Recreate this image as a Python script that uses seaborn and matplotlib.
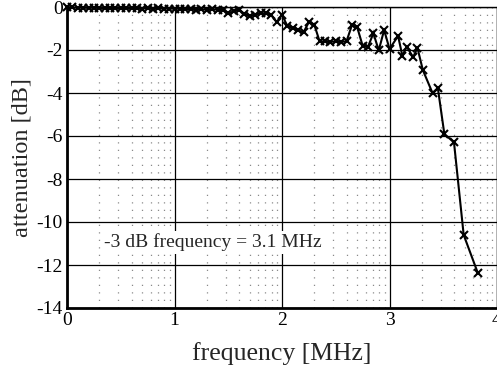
import numpy as np
import pandas as pd
import matplotlib
matplotlib.use("Agg")
import matplotlib.pyplot as plt
import seaborn as sns

# Measured frequency response of the transducer chain
freq_mhz = [
    0.00, 0.05, 0.10, 0.15, 0.20, 0.25, 0.30, 0.35, 0.40, 0.45,
    0.50, 0.55, 0.60, 0.65, 0.70, 0.75, 0.80, 0.85, 0.90, 0.95,
    1.00, 1.05, 1.10, 1.15, 1.20, 1.25, 1.30, 1.35, 1.40, 1.45,
    1.50, 1.55, 1.60, 1.65, 1.70, 1.75, 1.80, 1.85, 1.90, 1.95,
    2.00, 2.05, 2.10, 2.15, 2.20, 2.25, 2.30, 2.35, 2.40, 2.45,
    2.50, 2.55, 2.60, 2.65, 2.70, 2.75, 2.80, 2.85, 2.90, 2.95,
    3.00, 3.08, 3.12, 3.16, 3.22, 3.26, 3.31, 3.40, 3.45, 3.51,
    3.60, 3.69, 3.82,
]
attenuation_db = [
    0.00, -0.02, -0.03, -0.03, -0.04, -0.03, -0.05, -0.04, -0.05, -0.05,
    -0.06, -0.05, -0.06, -0.06, -0.07, -0.06, -0.07, -0.06, -0.08, -0.07,
    -0.08, -0.08, -0.10, -0.09, -0.12, -0.10, -0.13, -0.11, -0.12, -0.15,
    -0.30, -0.20, -0.12, -0.32, -0.42, -0.36, -0.28, -0.30, -0.38, -0.70,
    -0.37, -0.88, -0.98, -1.08, -1.18, -0.70, -0.82, -1.60, -1.60, -1.62,
    -1.60, -1.62, -1.60, -0.85, -0.95, -1.80, -1.85, -1.22, -2.02, -1.07,
    -1.95, -1.35, -2.28, -1.85, -2.33, -1.90, -2.93, -4.00, -3.78, -5.90,
    -6.30, -10.60, -12.35,
]
x_ticks = [0, 1, 2, 3, 4]
y_ticks = [0, -2, -4, -6, -8, -10, -12, -14]
cutoff_text = "-3 dB frequency = 3.1 MHz"

sns.set_style("white")
plt.rcParams["font.family"] = ["Liberation Serif", "DejaVu Serif"]

df = pd.DataFrame({"frequency": freq_mhz, "attenuation": attenuation_db})

fig = plt.figure(figsize=(4.97, 3.71), dpi=100)
ax = fig.add_axes([67 / 497, 1 - 308 / 371, 1 - 67 / 497, (308 - 7) / 371])

# Dotted minor grid at logarithmic spacing inside every unit interval
minor_x = [n + np.log10(k) for n in range(4) for k in range(2, 10)]
ax.set_xticks(minor_x, minor=True)
ax.set_yticks(np.arange(-14, 0.01, 0.5), minor=True)
ax.grid(which="minor", axis="x", linestyle=(0, (1, 5)), color="#8a8a8a", linewidth=0.9)
ax.grid(which="major", axis="both", linestyle="-", color="black", linewidth=0.9)
ax.set_axisbelow(True)

sns.lineplot(data=df, x="frequency", y="attenuation", ax=ax, color="black",
             linewidth=1.5, marker="x", markersize=6, markeredgewidth=1.5,
             markeredgecolor="black", clip_on=False)

ax.set_xlim(0, 4)
ax.set_ylim(-14, 0)
ax.set_xticks(x_ticks)
ax.set_xticklabels([str(v) for v in x_ticks])
ax.set_yticks(y_ticks)
ax.set_yticklabels([str(v) for v in y_ticks])

ax.tick_params(axis="both", which="major", direction="in", length=5, width=1,
               labelsize=14, colors="black", pad=3)
ax.tick_params(axis="y", which="minor", direction="in", length=3, width=1)
ax.tick_params(axis="x", which="minor", length=0)

for side in ["left", "bottom"]:
    ax.spines[side].set_linewidth(2)
    ax.spines[side].set_color("black")
for side in ["top", "right"]:
    ax.spines[side].set_linewidth(1)
    ax.spines[side].set_color("black")

ax.set_xlabel("frequency [MHz]", fontsize=18.5, labelpad=9)
ax.set_ylabel("attenuation [dB]", fontsize=17.5, labelpad=3)

ax.text(0.34, -10.95, cutoff_text, fontsize=14, va="center", ha="left",
        bbox=dict(facecolor="white", edgecolor="none", pad=2))

fig.savefig("out.png", dpi=100)
